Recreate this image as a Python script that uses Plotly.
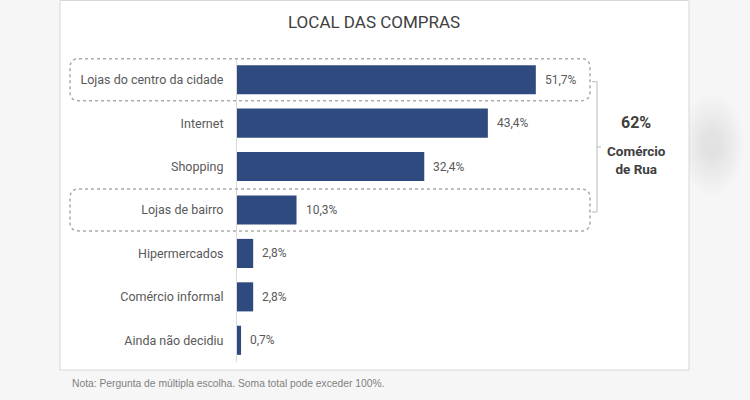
import plotly.graph_objects as go

categories = ["Lojas do centro da cidade", "Internet", "Shopping", "Lojas de bairro",
              "Hipermercados", "Comércio informal", "Ainda não decidiu"]
values = [51.7, 43.4, 32.4, 10.3, 2.8, 2.8, 0.7]
highlight_idx = [0, 3]
group_total = "62%"
group_label = "Comércio<br>de Rua"
title_text = "LOCAL DAS COMPRAS"
note_text = "Nota: Pergunta de múltipla escolha. Soma total pode exceder 100%."

FW, FH = 750, 400
L, R, T, B = 237, 60, 58, 38
PW, PH = FW - L - R, FH - T - B
PX_PER_UNIT = 5.78
xmax = PW / PX_PER_UNIT

def px(x):
    return (x - L) / PW

def py(y):
    return (FH - B - y) / PH

def cat_center(i):
    return T + (i + 0.5) * PH / len(categories)

labels = [f"{v:.1f}".replace(".", ",") + "%" for v in values]

fig = go.Figure(go.Bar(
    x=values, y=categories, orientation="h",
    marker=dict(color="#2F4A7E", line=dict(width=0)),
    width=0.67, hoverinfo="skip",
))

shapes = []
# soft background blob outside the card (approximate blur with many faint layers)
for k in range(10):
    f = 1 - k * 0.08
    shapes.append(dict(type="circle", xref="paper", yref="paper",
                       x0=px(712 - 32 * f), x1=px(712 + 32 * f),
                       y0=py(145 + 50 * f), y1=py(145 - 50 * f),
                       fillcolor="rgba(150,150,150,0.018)", line=dict(width=0), layer="below"))
# card
shapes.append(dict(type="rect", xref="paper", yref="paper",
                   x0=px(60), x1=px(689), y0=py(370), y1=py(0.5),
                   fillcolor="white", line=dict(color="#d6d6d6", width=1), layer="below"))

def rounded_rect(x0, y0, x1, y1, r):
    pts = [
        ("M", [(x0 + r, y0)]), ("L", [(x1 - r, y0)]), ("Q", [(x1, y0), (x1, y0 + r)]),
        ("L", [(x1, y1 - r)]), ("Q", [(x1, y1), (x1 - r, y1)]),
        ("L", [(x0 + r, y1)]), ("Q", [(x0, y1), (x0, y1 - r)]),
        ("L", [(x0, y0 + r)]), ("Q", [(x0, y0), (x0 + r, y0)]),
    ]
    s = ""
    for cmd, ps in pts:
        s += cmd + " " + " ".join(f"{px(a):.5f},{py(b):.5f}" for a, b in ps) + " "
    return s + "Z"

for i in highlight_idx:
    c = cat_center(i)
    shapes.append(dict(type="path", xref="paper", yref="paper",
                       path=rounded_rect(70, c - 21, 590, c + 21, 9),
                       line=dict(color="#ababab", width=1.5, dash="dot"), layer="above"))

# bracket
top = cat_center(highlight_idx[0]) + 2
bot = cat_center(highlight_idx[1]) + 2
mid = (top + bot) / 2
bc = "#c4c4c4"
for (xa, ya, xb, yb) in [(597, top, 597, bot), (592, top, 597, top), (592, bot, 597, bot), (597, mid, 601, mid)]:
    shapes.append(dict(type="line", xref="paper", yref="paper",
                       x0=px(xa), y0=py(ya), x1=px(xb), y1=py(yb),
                       line=dict(color=bc, width=1.2)))

annotations = [
    dict(text=lab, x=v, y=cat, xref="x", yref="y", xanchor="left", yanchor="middle",
         xshift=7, showarrow=False, font=dict(family="Roboto", size=12, color="#595959"))
    for v, cat, lab in zip(values, categories, labels)
]
annotations += [
    dict(text=title_text, xref="paper", yref="paper", x=px(374), y=py(22),
         xanchor="center", yanchor="middle",
         showarrow=False, font=dict(family="Roboto", size=17, color="#404040")),
    dict(text=f"<b>{group_total}</b>", xref="paper", yref="paper", x=px(636), y=py(123),
         xanchor="center", yanchor="middle",
         showarrow=False, font=dict(family="Roboto", size=16, color="#404040")),
    dict(text=f"<b>{group_label}</b>", xref="paper", yref="paper", x=px(636), y=py(160),
         xanchor="center", yanchor="middle",
         showarrow=False, font=dict(family="Roboto", size=13.5, color="#404040")),
    dict(text=note_text, xref="paper", yref="paper", x=px(70), y=py(383),
         xanchor="left", yanchor="middle",
         showarrow=False, font=dict(family="Liberation Sans", size=10.3, color="#7f7f7f")),
]

fig.update_layout(
    width=FW, height=FH,
    margin=dict(l=L, r=R, t=T, b=B, pad=0),
    paper_bgcolor="#f6f6f6", plot_bgcolor="rgba(0,0,0,0)",
    showlegend=False, bargap=0.33,
    shapes=shapes, annotations=annotations,
    xaxis=dict(range=[0, xmax], visible=False, showgrid=False, zeroline=False, fixedrange=True),
    yaxis=dict(autorange="reversed", showline=True, linecolor="#d9d9d9", linewidth=1,
               ticks="", showgrid=False, zeroline=False, ticklabelstandoff=10,
               tickfont=dict(family="Roboto", size=12.5, color="#595959")),
)

fig.write_html("out.html")
